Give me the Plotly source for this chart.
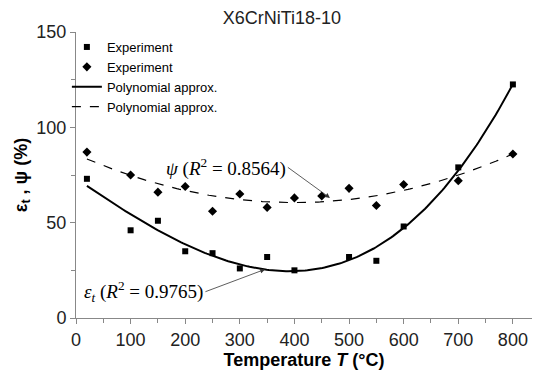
import numpy as np
import plotly.graph_objects as go

# Data
temp_eps = [20, 100, 150, 200, 250, 300, 350, 400, 500, 550, 600, 700, 800]
eps_t = [73, 46, 51, 35, 34, 26, 32, 25, 32, 30, 48, 79, 122.5]

temp_psi = [20, 100, 150, 200, 250, 300, 350, 400, 450, 500, 550, 600, 700, 800]
psi = [87, 75, 66, 69, 56, 65, 58, 63, 64, 68, 59, 70, 72, 86]

x_ticks = [0, 100, 200, 300, 400, 500, 600, 700, 800]
y_ticks = [0, 50, 100, 150]

# Polynomial approximations fitted to the experimental data
t_fit = np.linspace(20, 800, 200)
eps_fit = np.polyval(np.polyfit(temp_eps, eps_t, 3), t_fit)
psi_fit = np.polyval(np.polyfit(temp_psi, psi, 2), t_fit)

fig = go.Figure()
fig.add_trace(go.Scatter(x=temp_eps, y=eps_t, mode="markers", name="Experiment",
                         marker=dict(symbol="square", size=6, color="black")))
fig.add_trace(go.Scatter(x=temp_psi, y=psi, mode="markers", name="Experiment",
                         marker=dict(symbol="diamond", size=7, color="black")))
fig.add_trace(go.Scatter(x=t_fit, y=eps_fit, mode="lines", name="Polynomial approx.",
                         line=dict(color="black", width=2)))
fig.add_trace(go.Scatter(x=t_fit, y=psi_fit, mode="lines", name="Polynomial approx.",
                         line=dict(color="black", width=1.2, dash="dash")))

serif = "Liberation Serif"
# psi label with arrow (text box's right edge at arrow tail)
fig.add_annotation(x=465, y=63, ax=388, ay=79, axref="x", ayref="y",
                   xanchor="right", yanchor="middle",
                   text="<i>ψ</i> (<i>R</i><sup>2</sup> = 0.8564)",
                   font=dict(family=serif, size=19, color="black"),
                   showarrow=True, arrowhead=2, arrowsize=1.2, arrowwidth=0.8,
                   arrowcolor="#333")
# eps label with arrow
fig.add_annotation(x=346, y=25.5, ax=237, ay=13.8, axref="x", ayref="y",
                   xanchor="right", yanchor="middle",
                   text="<i>ε<sub>t</sub></i> (<i>R</i><sup>2</sup> = 0.9765)",
                   font=dict(family=serif, size=19, color="black"),
                   showarrow=True, arrowhead=2, arrowsize=1.2, arrowwidth=0.8,
                   arrowcolor="#333")

axis_common = dict(showgrid=False, zeroline=False, showline=True, linecolor="#888",
                   linewidth=1, ticks="outside", ticklen=5, tickcolor="#888",
                   tickfont=dict(family="Liberation Sans", size=18, color="#222"))

fig.update_layout(
    width=534, height=374,
    margin=dict(l=76, r=2, t=32, b=56),
    paper_bgcolor="white", plot_bgcolor="white",
    title=dict(text="X6CrNiTi18-10", x=0.528, xref="container", xanchor="center",
               y=0.952, yref="container", yanchor="middle",
               font=dict(family="Liberation Sans", size=18, color="#222")),
    xaxis=dict(range=[0, 835], tickvals=x_ticks,
               minor=dict(dtick=50, ticks="outside", ticklen=4, tickcolor="#888"),
               title=dict(text="<b>Temperature <i>T</i> (°C)</b>", standoff=0,
                          font=dict(family="Liberation Sans", size=18, color="black")),
               **axis_common),
    yaxis=dict(range=[0, 150], tickvals=y_ticks,
               minor=dict(dtick=25, ticks="outside", ticklen=4, tickcolor="#888"),
               title=dict(text="<b>ε<sub>t</sub> , ψ (%)</b>", standoff=4,
                          font=dict(family="Liberation Sans", size=18, color="black")),
               **axis_common),
    legend=dict(x=-0.02, y=1.0, xanchor="left", yanchor="top", bgcolor="rgba(0,0,0,0)",
                font=dict(family="Liberation Sans", size=13, color="black"),
                tracegroupgap=0, itemwidth=30),
    showlegend=True,
)

fig.write_html("out.html")
